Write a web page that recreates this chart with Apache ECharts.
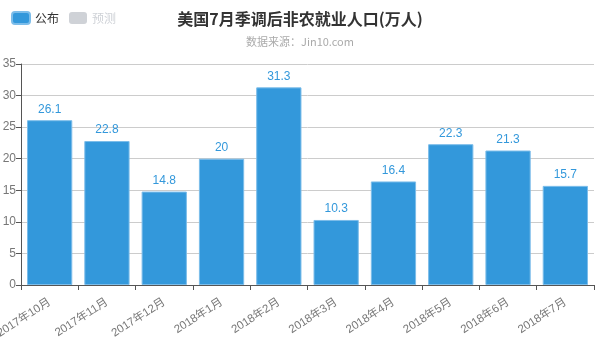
<!DOCTYPE html>
<html>
<head>
<meta charset="utf-8">
<script src="https://cdn.jsdelivr.net/npm/echarts@6/dist/echarts.min.js"></script>
<style>
  html, body { margin: 0; padding: 0; background: #fff; }
  #main { width: 600px; height: 353px; }
</style>
</head>
<body>
<div id="main"></div>
<script>
const categories = ['2017年10月', '2017年11月', '2017年12月', '2018年1月', '2018年2月', '2018年3月', '2018年4月', '2018年5月', '2018年6月', '2018年7月']
const published = [26.1, 22.8, 14.8, 20, 31.3, 10.3, 16.4, 22.3, 21.3, 15.7]
const forecast = []

const narrow = '"Liberation Sans", "Noto Sans CJK SC", sans-serif'

const chart = echarts.init(document.getElementById('main'))

chart.setOption({
  animation: false,
  title: {
    text: '美国7月季调后非农就业人口(万人)',
    subtext: '数据来源：Jin10.com',
    left: 'center',
    top: 6,
    itemGap: 9,
    textStyle: { fontSize: 16, fontWeight: 'bold', color: '#333', fontFamily: 'Noto Sans CJK SC' },
    subtextStyle: { fontSize: 11, color: '#aaa', fontFamily: 'Noto Sans CJK SC' }
  },
  legend: {
    left: 6,
    top: 6,
    itemWidth: 18,
    itemHeight: 12,
    itemGap: 10,
    selected: { '预测': false },
    textStyle: { fontSize: 12, color: '#333', fontFamily: 'Noto Sans CJK SC' },
    data: ['公布', '预测']
  },
  grid: { left: 21, right: 6, top: 64, bottom: 68, containLabel: false, outerBoundsMode: 'none' },
  xAxis: {
    type: 'category',
    data: categories,
    axisLine: { lineStyle: { color: '#555' } },
    axisTick: { show: true, lineStyle: { color: '#555' } },
    axisLabel: { rotate: 33, interval: 0, color: '#777', fontSize: 11.5, margin: 16, fontFamily: narrow }
  },
  yAxis: {
    type: 'value',
    min: 0,
    max: 35,
    interval: 5,
    axisLine: { show: true, lineStyle: { color: '#555' } },
    axisTick: { show: true, lineStyle: { color: '#555' } },
    axisLabel: { color: '#777', fontSize: 12, margin: 5, fontFamily: narrow },
    splitLine: { lineStyle: { color: '#ccc' } }
  },
  series: [
    {
      name: '公布',
      type: 'bar',
      data: published,
      barCategoryGap: '21%',
      itemStyle: { color: '#3398DB', borderColor: '#7cbdea', borderWidth: 1 },
      label: { show: true, position: 'top', color: '#3398DB', fontSize: 12, distance: 5, fontFamily: narrow }
    },
    {
      name: '预测',
      type: 'bar',
      data: forecast,
      itemStyle: { color: '#ccc' }
    }
  ]
})
</script>
</body>
</html>
